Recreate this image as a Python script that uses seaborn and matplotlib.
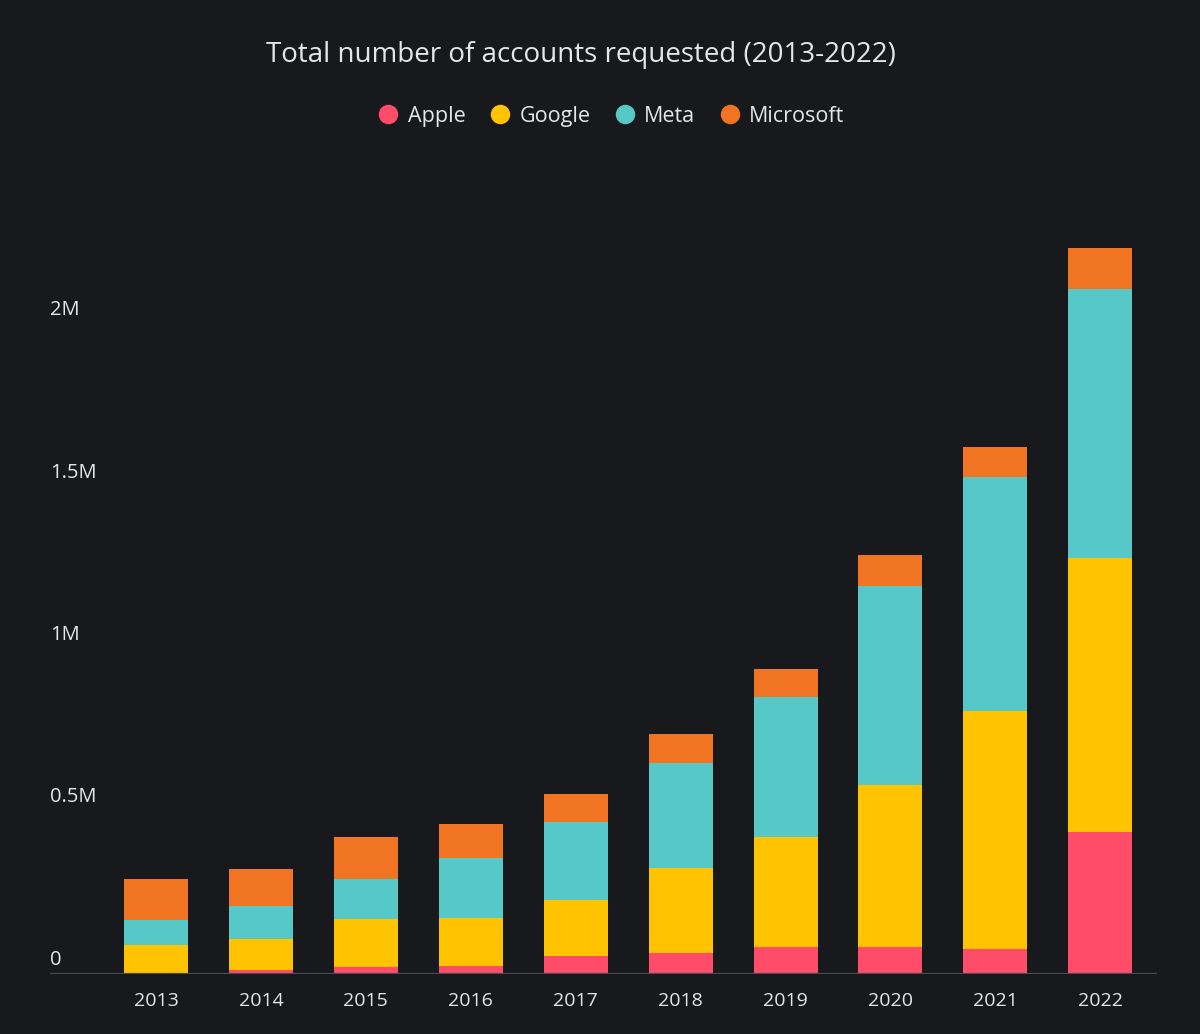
import matplotlib
matplotlib.use("Agg")
import matplotlib.pyplot as plt
import matplotlib.transforms as mtransforms
from matplotlib.lines import Line2D
import seaborn as sns
import pandas as pd
import numpy as np

years = ["2013", "2014", "2015", "2016", "2017", "2018", "2019", "2020", "2021", "2022"]
apple = [5000, 13000, 22000, 26000, 56000, 66000, 85000, 85000, 77000, 439000]
google = [86000, 96000, 147000, 147000, 172000, 261000, 338000, 497000, 732000, 842000]
meta = [77000, 101000, 123000, 184000, 242000, 323000, 430000, 614000, 720000, 827000]
microsoft = [126000, 113000, 130000, 105000, 86000, 90000, 86000, 94000, 93000, 126000]

series_names = ["Apple", "Google", "Meta", "Microsoft"]
colors = ["#FF4D69", "#FFC300", "#57C8C8", "#F07422"]
ytick_vals = [0, 500000, 1000000, 1500000, 2000000]
ytick_labels = ["0", "0.5M", "1M", "1.5M", "2M"]

BG = "#17191C"
TXT = "#E6E6E6"

sns.set_style("dark", {"axes.facecolor": BG, "figure.facecolor": BG})
plt.rcParams["font.family"] = ["Open Sans", "DejaVu Sans"]

fig = plt.figure(figsize=(12, 10.34), dpi=100, facecolor=BG)
ax = fig.add_axes([50 / 1200, (1034 - 974.3) / 1034, 1107 / 1200, (974.3 - 230) / 1034])
ax.set_facecolor(BG)

df = pd.DataFrame({"year": years, "Apple": apple, "Google": google,
                   "Meta": meta, "Microsoft": microsoft})
cum = df[series_names].cumsum(axis=1)

# draw from tallest cumulative to smallest so segments appear stacked
for name, col in reversed(list(zip(series_names, colors))):
    sns.barplot(x=df["year"], y=cum[name], color=col, width=0.61,
                saturation=1, ax=ax, edgecolor="none", linewidth=0)

ax.set_xlim(-1.01, 9.54)
ax.set_ylim(0, (974.3 - 230) / 325.0 * 1e6)
ax.set_xlabel("")
ax.set_ylabel("")
ax.grid(False)
for s in ax.spines.values():
    s.set_visible(False)
ax.axhline(0, color="#4A4D52", lw=1.6, zorder=5)

ax.set_yticks(ytick_vals)
ax.set_yticklabels([])
ax.tick_params(axis="y", length=0)
off = mtransforms.offset_copy(ax.get_yaxis_transform(), fig=fig, x=0, y=14.3, units="dots")
for v, lab in zip(ytick_vals, ytick_labels):
    ax.text(0.0, v, lab, transform=off, ha="left", va="center",
            color=TXT, fontsize=14.5)

ax.tick_params(axis="x", length=0, pad=13, labelsize=14, labelcolor=TXT)

fig.text(581 / 1200, 1 - 55 / 1034, "Total number of accounts requested (2013-2022)",
         ha="center", va="center", color=TXT, fontsize=20)

handles = [Line2D([0], [0], marker="o", linestyle="none", markersize=13,
                  markerfacecolor=c, markeredgecolor=c) for c in colors]
fig.legend(handles, series_names, loc="center", bbox_to_anchor=(611 / 1200, 1 - 116 / 1034),
           ncol=4, frameon=False, fontsize=15.5, labelcolor=TXT,
           handlelength=1.0, handletextpad=0.4, columnspacing=1.1)

fig.savefig("out.png", dpi=100, facecolor=BG)
